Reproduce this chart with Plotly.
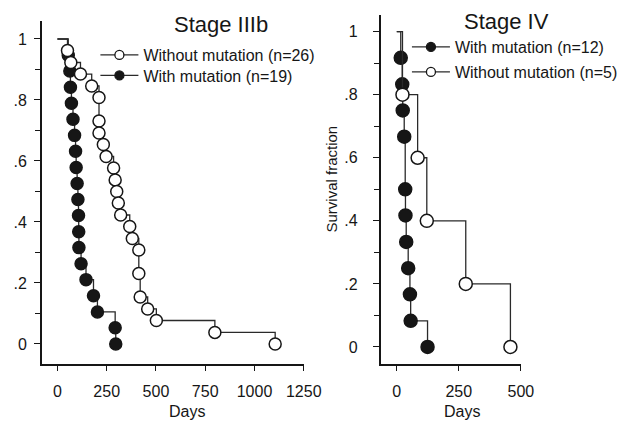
import plotly.graph_objects as go

# visible window is 642 x 421; the layout is a little wider so the right-hand
# legends are not pushed left by plotly's keep-inside-the-paper rule
W, H = 680, 421

# ---------------- data ----------------
start_day = 0
start_surv = 1.0

# Stage IIIb, without mutation (n=26)
iiib_wo_days = [51, 68, 117, 174, 211, 211, 211, 233, 247, 285, 293, 301, 309,
                321, 367, 380, 413, 413, 420, 458, 502, 799, 1105]
iiib_wo_surv = [0.962, 0.923, 0.885, 0.846, 0.808, 0.731, 0.692, 0.654, 0.615,
                0.577, 0.538, 0.500, 0.462, 0.423, 0.385, 0.346, 0.308, 0.231,
                0.154, 0.115, 0.077, 0.038, 0.0]
# Stage IIIb, with mutation (n=19)
iiib_w_days = [55, 63, 66, 71, 79, 87, 92, 95, 100, 104, 107, 108, 109, 120,
               145, 183, 203, 293, 296]
iiib_w_surv = [0.947, 0.895, 0.842, 0.789, 0.737, 0.684, 0.632, 0.579, 0.526,
               0.474, 0.421, 0.368, 0.316, 0.263, 0.211, 0.158, 0.105, 0.053, 0.0]
# Stage IV, with mutation (n=12)
iv_w_days = [16, 22, 24, 30, 34, 35, 38, 46, 53, 56, 124]
iv_w_surv = [0.917, 0.833, 0.750, 0.667, 0.500, 0.417, 0.333, 0.250, 0.167,
             0.083, 0.0]
# Stage IV, without mutation (n=5)
iv_wo_days = [23, 84, 121, 278, 458]
iv_wo_surv = [0.8, 0.6, 0.4, 0.2, 0.0]

iiib_xticks = [0, 250, 500, 750, 1000, 1250]
iv_xticks = [0, 250, 500]
y_ticks = [0, 0.2, 0.4, 0.6, 0.8, 1.0]
y_ticktext = ["0", ".2", ".4", ".6", ".8", "1"]
y_minor = [0.1, 0.3, 0.5, 0.7, 0.9]

lbl_iiib_wo = "Without mutation (n=26)"
lbl_iiib_w = "With mutation (n=19)"
lbl_iv_w = "With mutation (n=12)"
lbl_iv_wo = "Without mutation (n=5)"

# ---------------- styling ----------------
INK = "#161616"
LINE = "#2a2a2a"
FONT = "Liberation Sans, Arial, Helvetica, sans-serif"


def px(x):
    return x / W


def py(y):
    return 1 - y / H


def km_trace(days, surv, filled, xa, ya, msize):
    n = len(days)
    return go.Scatter(
        x=[start_day] + days,
        y=[start_surv] + surv,
        mode="lines+markers",
        line=dict(shape="hv", color=LINE, width=1.3),
        marker=dict(
            symbol="circle",
            size=[0] + [msize] * n,
            opacity=1,
            color=INK if filled else "white",
            line=dict(color=INK, width=[0] + [1.5] * n),
        ),
        xaxis=xa, yaxis=ya, showlegend=False, hoverinfo="skip",
    )


def legend_trace(name, filled, legend, xa, ya):
    return go.Scatter(
        x=[None], y=[None], name=name, mode="lines+markers",
        line=dict(color=LINE, width=1.3),
        marker=dict(symbol="circle", size=9, opacity=1,
                    color=INK if filled else "white",
                    line=dict(color=INK, width=1.3)),
        legend=legend, xaxis=xa, yaxis=ya,
    )


fig = go.Figure()
# filled first so open circles sit on top
fig.add_trace(km_trace(iiib_w_days, iiib_w_surv, True, "x", "y", 12))
fig.add_trace(km_trace(iiib_wo_days, iiib_wo_surv, False, "x", "y", 12))
fig.add_trace(km_trace(iv_w_days, iv_w_surv, True, "x2", "y2", 13))
fig.add_trace(km_trace(iv_wo_days, iv_wo_surv, False, "x2", "y2", 13))

fig.add_trace(legend_trace(lbl_iiib_wo, False, "legend", "x", "y"))
fig.add_trace(legend_trace(lbl_iiib_w, True, "legend2", "x", "y"))
fig.add_trace(legend_trace(lbl_iv_w, True, "legend3", "x2", "y2"))
fig.add_trace(legend_trace(lbl_iv_wo, False, "legend4", "x2", "y2"))

tickfont = dict(family=FONT, size=16, color=INK)

common_x = dict(showgrid=False, zeroline=False, showline=True, linecolor=INK,
                linewidth=1.5, ticks="outside", ticklen=5, tickwidth=1.3,
                tickcolor=INK, tickfont=tickfont, ticklabelstandoff=7)
common_y = dict(showgrid=False, zeroline=False, showline=True, linecolor=INK,
                linewidth=1.5, ticks="outside", ticklen=6, tickwidth=1.3,
                tickcolor=INK, tickfont=tickfont, tickmode="array",
                tickvals=y_ticks, ticktext=y_ticktext,
                minor=dict(tickmode="array", tickvals=y_minor, ticks="outside",
                           ticklen=5, tickwidth=1.3, tickcolor=INK))
over_x = dict(showgrid=False, zeroline=False, showline=False, ticks="inside",
              ticklen=3, tickwidth=1.3, tickcolor=INK, showticklabels=False)

y_bottom = 364
fig.update_layout(
    width=W, height=H, autosize=False,
    margin=dict(l=0, r=0, t=0, b=0),
    paper_bgcolor="white", plot_bgcolor="white",
    font=dict(family=FONT, color=INK, size=16),
    xaxis=dict(domain=[px(43), px(312)], range=[-79, 1250], anchor="y",
               tickmode="array", tickvals=iiib_xticks, **common_x),
    xaxis3=dict(overlaying="x", anchor="y", range=[-79, 1250],
                tickmode="array", tickvals=iiib_xticks, **over_x),
    yaxis=dict(domain=[py(y_bottom), py(21)], range=[-0.0656, 1.059],
               anchor="x", ticklabelstandoff=4, **common_y),
    xaxis2=dict(domain=[px(391), px(535)], range=[-65, 500], anchor="y2",
                tickmode="array", tickvals=iv_xticks, **common_x),
    xaxis4=dict(overlaying="x2", anchor="y2", range=[-65, 500],
                tickmode="array", tickvals=iv_xticks, **over_x),
    yaxis2=dict(domain=[py(y_bottom), py(15)], range=[-0.054, 1.0527],
                anchor="x2", ticklabelstandoff=12, **common_y),
)

leg_common = dict(font=dict(family=FONT, size=16, color=INK),
                  bgcolor="rgba(0,0,0,0)", borderwidth=0, itemwidth=38,
                  xanchor="left", yanchor="middle", itemclick=False,
                  itemdoubleclick=False)
fig.update_layout(
    legend=dict(x=px(98), y=py(55), **leg_common),
    legend2=dict(x=px(98), y=py(75.5), **leg_common),
    legend3=dict(x=px(418), y=py(47), **leg_common),
    legend4=dict(x=px(418), y=py(72), **leg_common),
)

ann = []
ann.append(dict(text="Stage IIIb", x=px(227), y=py(24.5), xref="paper",
                yref="paper", showarrow=False, xanchor="center",
                yanchor="middle", font=dict(family=FONT, size=22, color=INK)))
ann.append(dict(text="Stage IV", x=px(520), y=py(21.5), xref="paper",
                yref="paper", showarrow=False, xanchor="center",
                yanchor="middle", font=dict(family=FONT, size=22, color=INK)))
ann.append(dict(text="Days", x=px(192), y=py(411), xref="paper", yref="paper",
                showarrow=False, xanchor="center", yanchor="middle",
                font=dict(family=FONT, size=16, color=INK)))
ann.append(dict(text="Days", x=px(475), y=py(411), xref="paper", yref="paper",
                showarrow=False, xanchor="center", yanchor="middle",
                font=dict(family=FONT, size=16, color=INK)))
ann.append(dict(text="Survival fraction", x=px(339.5), y=py(179),
                xref="paper", yref="paper", showarrow=False, textangle=-90,
                xanchor="center", yanchor="middle",
                font=dict(family=FONT, size=15, color=INK)))
fig.update_layout(annotations=ann)

fig.write_html(
    "out.html",
    config={"displayModeBar": False, "responsive": False},
    post_script=(
        "document.documentElement.style.overflow='hidden';"
        "document.body.style.overflow='hidden';"
        "document.body.style.margin='0px';"
        "document.body.style.padding='0px';"
    ),
)
